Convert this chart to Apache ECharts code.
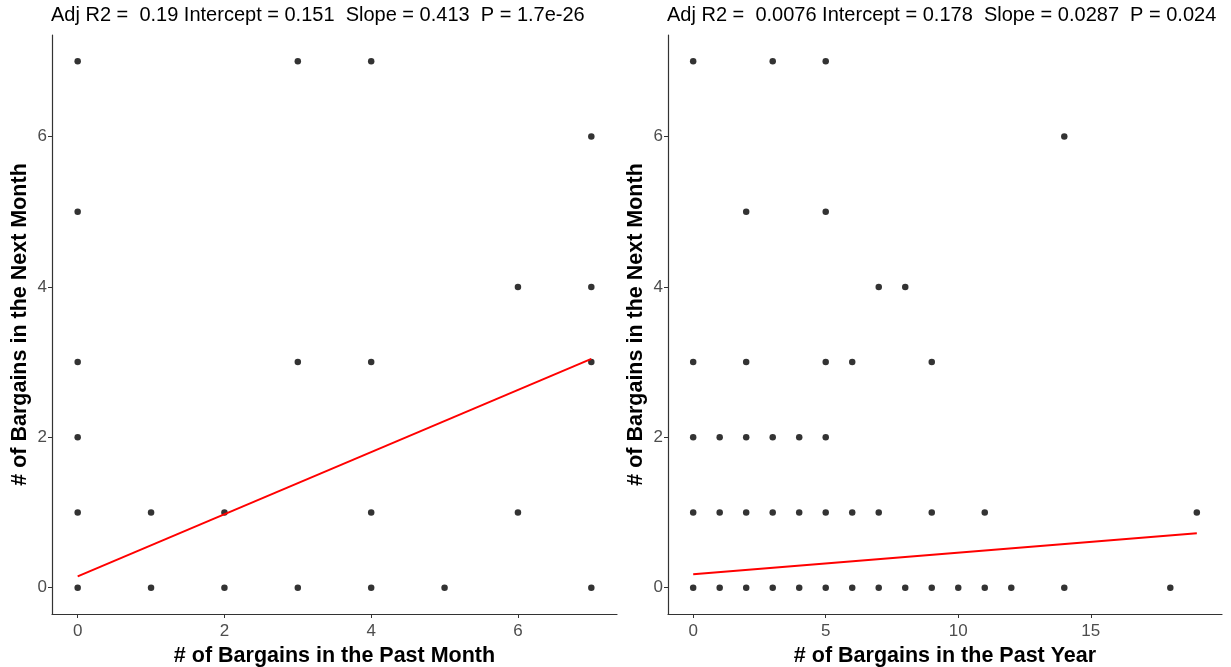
<!DOCTYPE html>
<html><head><meta charset="utf-8">
<script src="https://cdn.jsdelivr.net/npm/echarts@6/dist/echarts.min.js"></script>
<style>html,body{margin:0;padding:0;background:#fff}#c{width:1231px;height:667px}</style>
</head><body><div id="c"></div>
<script>
// Left panel: past month vs next month
const monthPoints = [
  [0,7],[0,5],[0,3],[0,2],[0,1],[0,0],
  [1,1],[1,0],
  [2,1],[2,0],
  [3,7],[3,3],[3,0],
  [4,7],[4,3],[4,1],[4,0],
  [5,0],
  [6,4],[6,1],
  [7,6],[7,4],[7,3],[7,0]
];
const monthFit = [[0,0.151],[7,3.042]];
// Right panel: past year vs next month
const yearPoints = [
  [0,7],[3,7],[5,7],
  [14,6],
  [2,5],[5,5],
  [7,4],[8,4],
  [0,3],[2,3],[5,3],[6,3],[9,3],
  [0,2],[1,2],[2,2],[3,2],[4,2],[5,2],
  [0,1],[1,1],[2,1],[3,1],[4,1],[5,1],[6,1],[7,1],[9,1],[11,1],[19,1],
  [0,0],[1,0],[2,0],[3,0],[4,0],[5,0],[6,0],[7,0],[8,0],[9,0],[10,0],[11,0],[12,0],[14,0],[18,0]
];
const yearFit = [[0,0.178],[19,0.723]];
const leftTitle = 'Adj R2 =  0.19 Intercept = 0.151  Slope = 0.413  P = 1.7e-26';
const rightTitle = 'Adj R2 =  0.0076 Intercept = 0.178  Slope = 0.0287  P = 0.024';
const monthTicks = [0,2,4,6];
const yearTicks = [0,5,10,15];
const yTicks = [0,2,4,6];

const FONT = '"Liberation Sans", Arial, sans-serif';
function xAx(idx, min, max, ticks, name){
  return {gridIndex: idx, type:'value', min, max,
    name, nameLocation:'middle', nameGap: 30,
    nameTextStyle:{fontFamily:FONT, fontSize:21.5, fontWeight:'bold', color:'#000'},
    axisLine:{show:true, onZero:false, lineStyle:{color:'#333', width:1.2}},
    axisTick:{show:true, length:4, lineStyle:{color:'#333'}, customValues:ticks},
    axisLabel:{show:true, fontFamily:FONT, fontSize:17, color:'#4D4D4D', margin:9, customValues:ticks},
    splitLine:{show:false}};
}
function yAx(idx, name){
  return {gridIndex: idx, type:'value', min:-0.35, max:7.35,
    name, nameLocation:'middle', nameGap: 21,
    nameTextStyle:{fontFamily:FONT, fontSize:21.5, fontWeight:'bold', color:'#000'},
    axisLine:{show:true, onZero:false, lineStyle:{color:'#333', width:1.2}},
    axisTick:{show:true, length:4, lineStyle:{color:'#333'}, customValues:yTicks},
    axisLabel:{show:true, fontFamily:FONT, fontSize:17, color:'#4D4D4D', margin:5, customValues:yTicks},
    splitLine:{show:false}};
}
const chart = echarts.init(document.getElementById('c'), null, {renderer:'canvas'});
chart.setOption({
  animation:false,
  backgroundColor:'#fff',
  title:[
    {text:leftTitle, left:46, top:0, textStyle:{fontFamily:FONT, fontSize:20, fontWeight:'normal', color:'#000'}},
    {text:rightTitle, left:662, top:0, textStyle:{fontFamily:FONT, fontSize:20, fontWeight:'normal', color:'#000'}}
  ],
  grid:[
    {left:52, top:35, width:565, height:579, containLabel:false, outerBoundsMode:'none'},
    {left:668, top:35, width:554, height:579, containLabel:false, outerBoundsMode:'none'}
  ],
  xAxis:[
    xAx(0, -0.35, 7.35, monthTicks, '# of Bargains in the Past Month'),
    xAx(1, -0.95, 19.95, yearTicks, '# of Bargains in the Past Year')
  ],
  yAxis:[
    yAx(0, '# of Bargains in the Next Month'),
    yAx(1, '# of Bargains in the Next Month')
  ],
  series:[
    {type:'scatter', xAxisIndex:0, yAxisIndex:0, data:monthPoints, symbolSize:6.5, itemStyle:{color:'#000'}},
    {type:'line', xAxisIndex:0, yAxisIndex:0, data:monthFit, showSymbol:false, lineStyle:{color:'#FF0000', width:2}},
    {type:'scatter', xAxisIndex:1, yAxisIndex:1, data:yearPoints, symbolSize:6.5, itemStyle:{color:'#000'}},
    {type:'line', xAxisIndex:1, yAxisIndex:1, data:yearFit, showSymbol:false, lineStyle:{color:'#FF0000', width:2}}
  ]
});
</script></body></html>
